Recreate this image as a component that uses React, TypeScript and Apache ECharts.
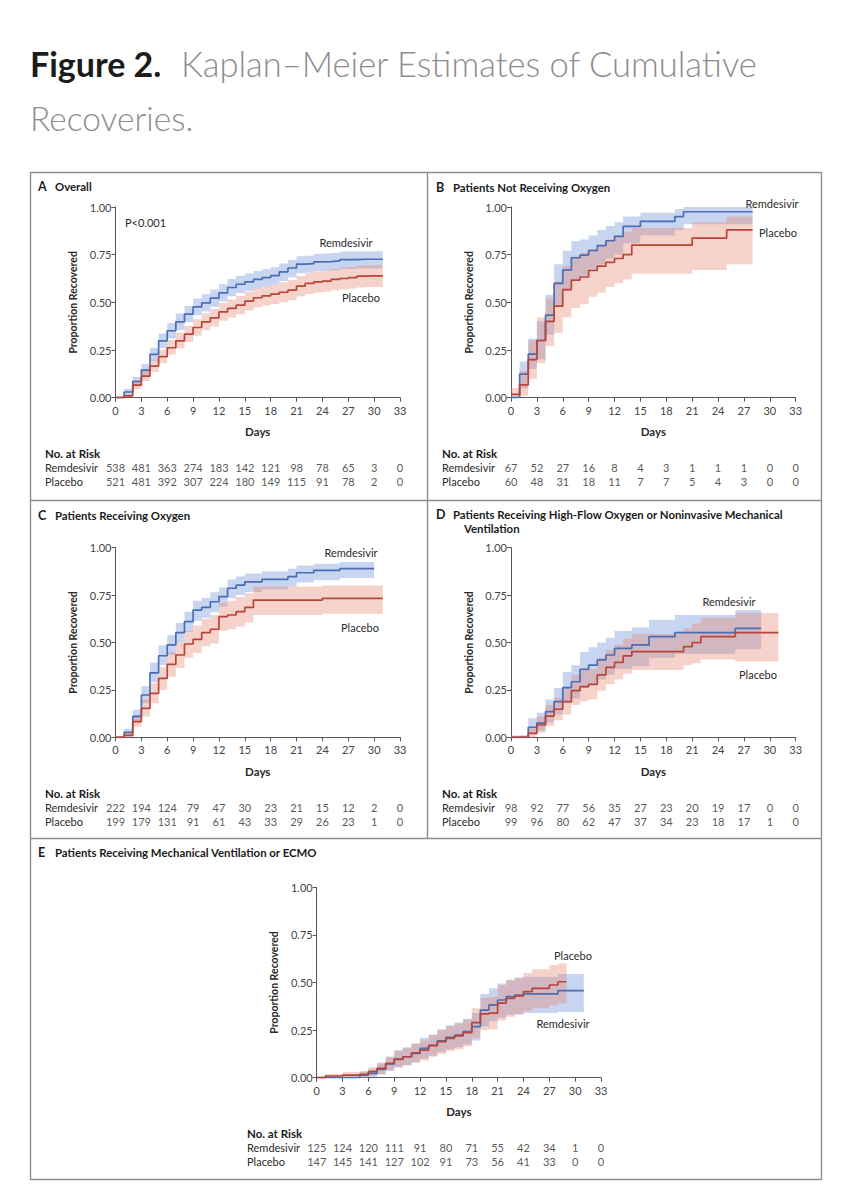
import React, { useEffect, useRef } from "react";
import * as echarts from "echarts";

// ---------- DATA ----------
const RISK_DAYS = [0, 3, 6, 9, 12, 15, 18, 21, 24, 27, 30, 33];
const ARMS = ["Remdesivir", "Placebo"];

// Panel A – Overall (values per day, from day 0)
const A_REM = [0, 0.03, 0.085, 0.145, 0.227, 0.298, 0.351, 0.398, 0.438, 0.476, 0.497, 0.522, 0.55, 0.578, 0.595, 0.607, 0.62, 0.63, 0.64, 0.66, 0.68, 0.7, 0.703, 0.712, 0.714, 0.717, 0.724, 0.724, 0.726, 0.726, 0.726];
const A_REM_LO = [0, 0.015, 0.062, 0.115, 0.193, 0.26, 0.31, 0.355, 0.395, 0.432, 0.452, 0.477, 0.505, 0.532, 0.549, 0.561, 0.573, 0.583, 0.593, 0.612, 0.632, 0.652, 0.655, 0.663, 0.665, 0.668, 0.675, 0.675, 0.677, 0.677, 0.677];
const A_REM_HI = [0, 0.045, 0.108, 0.177, 0.262, 0.336, 0.392, 0.441, 0.481, 0.52, 0.542, 0.567, 0.595, 0.622, 0.639, 0.651, 0.664, 0.674, 0.684, 0.704, 0.722, 0.742, 0.745, 0.754, 0.756, 0.759, 0.766, 0.766, 0.768, 0.768, 0.768];
const A_PLA = [0, 0.01, 0.066, 0.113, 0.166, 0.215, 0.262, 0.298, 0.333, 0.368, 0.398, 0.419, 0.45, 0.468, 0.485, 0.506, 0.524, 0.534, 0.543, 0.553, 0.564, 0.585, 0.599, 0.607, 0.611, 0.62, 0.625, 0.63, 0.637, 0.639, 0.639];
const A_PLA_LO = [0, 0.002, 0.046, 0.088, 0.136, 0.18, 0.225, 0.258, 0.292, 0.325, 0.354, 0.374, 0.404, 0.421, 0.437, 0.457, 0.474, 0.484, 0.492, 0.501, 0.511, 0.531, 0.544, 0.551, 0.555, 0.563, 0.567, 0.572, 0.578, 0.58, 0.58];
const A_PLA_HI = [0, 0.02, 0.09, 0.142, 0.2, 0.252, 0.302, 0.34, 0.376, 0.412, 0.443, 0.465, 0.496, 0.515, 0.533, 0.555, 0.574, 0.584, 0.594, 0.605, 0.617, 0.638, 0.653, 0.662, 0.666, 0.675, 0.681, 0.686, 0.693, 0.695, 0.695];
const A_REM_RISK = [538, 481, 363, 274, 183, 142, 121, 98, 78, 65, 3, 0];
const A_PLA_RISK = [521, 481, 392, 307, 224, 180, 149, 115, 91, 78, 2, 0];

// Panel B – Patients Not Receiving Oxygen
const B_REM = [0, 0.124, 0.228, 0.3, 0.433, 0.6, 0.67, 0.734, 0.748, 0.772, 0.797, 0.823, 0.846, 0.898, 0.898, 0.925, 0.925, 0.925, 0.925, 0.95, 0.975, 0.975, 0.975, 0.975, 0.975, 0.975, 0.975, 0.975];
const B_REM_LO = [0, 0.05, 0.15, 0.2, 0.33, 0.48, 0.56, 0.62, 0.64, 0.67, 0.7, 0.73, 0.75, 0.81, 0.81, 0.85, 0.85, 0.85, 0.85, 0.88, 0.91, 0.91, 0.91, 0.91, 0.91, 0.91, 0.91, 0.91];
const B_REM_HI = [0, 0.19, 0.31, 0.4, 0.54, 0.7, 0.77, 0.82, 0.83, 0.85, 0.88, 0.9, 0.92, 0.95, 0.95, 0.97, 0.97, 0.97, 0.97, 0.99, 1.0, 1.0, 1.0, 1.0, 1.0, 1.0, 1.0, 1.0];
const B_PLA = [0.017, 0.067, 0.2, 0.3, 0.4, 0.48, 0.567, 0.617, 0.633, 0.667, 0.69, 0.71, 0.73, 0.75, 0.8, 0.8, 0.8, 0.8, 0.8, 0.8, 0.8, 0.837, 0.837, 0.837, 0.837, 0.88, 0.88, 0.88];
const B_PLA_LO = [0, 0.01, 0.1, 0.18, 0.27, 0.34, 0.42, 0.47, 0.49, 0.53, 0.55, 0.58, 0.6, 0.62, 0.65, 0.65, 0.65, 0.65, 0.65, 0.65, 0.65, 0.67, 0.67, 0.67, 0.67, 0.7, 0.7, 0.7];
const B_PLA_HI = [0.05, 0.14, 0.3, 0.42, 0.52, 0.61, 0.69, 0.74, 0.76, 0.78, 0.8, 0.83, 0.85, 0.87, 0.89, 0.89, 0.89, 0.89, 0.89, 0.89, 0.89, 0.92, 0.92, 0.92, 0.92, 0.95, 0.95, 0.95];
const B_REM_RISK = [67, 52, 27, 16, 8, 4, 3, 1, 1, 1, 0, 0];
const B_PLA_RISK = [60, 48, 31, 18, 11, 7, 7, 5, 4, 3, 0, 0];

// Panel C – Patients Receiving Oxygen
const C_REM = [0, 0.026, 0.11, 0.223, 0.34, 0.43, 0.487, 0.552, 0.61, 0.671, 0.685, 0.715, 0.742, 0.786, 0.803, 0.82, 0.82, 0.833, 0.833, 0.833, 0.847, 0.868, 0.868, 0.88, 0.88, 0.88, 0.89, 0.89, 0.89, 0.89];
const C_REM_LO = [0, 0.01, 0.08, 0.18, 0.29, 0.38, 0.435, 0.5, 0.555, 0.615, 0.63, 0.66, 0.688, 0.733, 0.75, 0.767, 0.767, 0.78, 0.78, 0.78, 0.795, 0.816, 0.816, 0.828, 0.828, 0.828, 0.84, 0.84, 0.84, 0.84];
const C_REM_HI = [0, 0.045, 0.145, 0.27, 0.395, 0.485, 0.54, 0.603, 0.662, 0.72, 0.735, 0.765, 0.79, 0.832, 0.848, 0.864, 0.864, 0.876, 0.876, 0.876, 0.889, 0.906, 0.906, 0.915, 0.915, 0.915, 0.925, 0.925, 0.925, 0.925];
const C_PLA = [0, 0.01, 0.083, 0.153, 0.232, 0.311, 0.385, 0.434, 0.492, 0.517, 0.552, 0.57, 0.636, 0.645, 0.663, 0.685, 0.724, 0.724, 0.724, 0.724, 0.724, 0.724, 0.724, 0.724, 0.733, 0.733, 0.733, 0.733, 0.733, 0.733, 0.733];
const C_PLA_LO = [0, 0, 0.055, 0.11, 0.18, 0.25, 0.32, 0.365, 0.42, 0.445, 0.48, 0.495, 0.56, 0.57, 0.585, 0.605, 0.645, 0.645, 0.645, 0.645, 0.645, 0.645, 0.645, 0.645, 0.652, 0.652, 0.652, 0.652, 0.652, 0.652, 0.652];
const C_PLA_HI = [0, 0.025, 0.115, 0.2, 0.285, 0.37, 0.45, 0.5, 0.56, 0.59, 0.625, 0.645, 0.71, 0.72, 0.74, 0.76, 0.795, 0.795, 0.795, 0.795, 0.795, 0.795, 0.795, 0.795, 0.8, 0.8, 0.8, 0.8, 0.8, 0.8, 0.8];
const C_REM_RISK = [222, 194, 124, 79, 47, 30, 23, 21, 15, 12, 2, 0];
const C_PLA_RISK = [199, 179, 131, 91, 61, 43, 33, 29, 26, 23, 1, 0];

// Panel D – High-Flow Oxygen or Noninvasive Mechanical Ventilation
const D_REM = [0, 0, 0.053, 0.075, 0.135, 0.188, 0.262, 0.293, 0.358, 0.381, 0.408, 0.434, 0.469, 0.469, 0.487, 0.487, 0.531, 0.531, 0.531, 0.552, 0.552, 0.552, 0.552, 0.552, 0.552, 0.552, 0.575, 0.575, 0.575];
const D_REM_LO = [0, 0, 0.02, 0.035, 0.08, 0.12, 0.18, 0.205, 0.26, 0.28, 0.305, 0.33, 0.36, 0.36, 0.375, 0.375, 0.42, 0.42, 0.42, 0.44, 0.44, 0.44, 0.44, 0.44, 0.44, 0.44, 0.465, 0.465, 0.465];
const D_REM_HI = [0.01, 0.01, 0.1, 0.13, 0.2, 0.26, 0.345, 0.38, 0.45, 0.475, 0.5, 0.525, 0.56, 0.56, 0.58, 0.58, 0.62, 0.62, 0.62, 0.645, 0.645, 0.645, 0.645, 0.645, 0.645, 0.645, 0.67, 0.67, 0.67];
const D_PLA = [0, 0, 0.021, 0.065, 0.112, 0.148, 0.188, 0.246, 0.267, 0.279, 0.329, 0.369, 0.395, 0.429, 0.452, 0.452, 0.452, 0.452, 0.452, 0.452, 0.478, 0.499, 0.531, 0.531, 0.531, 0.531, 0.552, 0.552, 0.552, 0.552, 0.552];
const D_PLA_LO = [0, 0, 0, 0.025, 0.06, 0.09, 0.12, 0.17, 0.19, 0.2, 0.245, 0.28, 0.305, 0.335, 0.355, 0.355, 0.355, 0.355, 0.355, 0.355, 0.38, 0.39, 0.41, 0.41, 0.41, 0.41, 0.4, 0.4, 0.4, 0.4, 0.4];
const D_PLA_HI = [0, 0.01, 0.05, 0.11, 0.17, 0.21, 0.26, 0.33, 0.35, 0.36, 0.42, 0.46, 0.49, 0.52, 0.545, 0.545, 0.545, 0.545, 0.545, 0.545, 0.575, 0.6, 0.63, 0.63, 0.63, 0.63, 0.655, 0.655, 0.655, 0.655, 0.655];
const D_REM_RISK = [98, 92, 77, 56, 35, 27, 23, 20, 19, 17, 0, 0];
const D_PLA_RISK = [99, 96, 80, 62, 47, 37, 34, 23, 18, 17, 1, 0];

// Panel E – Mechanical Ventilation or ECMO
const E_REM = [0, 0, 0, 0, 0, 0.014, 0.023, 0.044, 0.072, 0.098, 0.11, 0.128, 0.154, 0.17, 0.194, 0.212, 0.224, 0.242, 0.268, 0.355, 0.382, 0.408, 0.426, 0.434, 0.44, 0.44, 0.44, 0.44, 0.457, 0.457, 0.457];
const E_REM_LO = [0, 0, 0, 0, 0, 0, 0.005, 0.015, 0.035, 0.055, 0.065, 0.08, 0.1, 0.115, 0.135, 0.15, 0.16, 0.175, 0.195, 0.27, 0.295, 0.315, 0.33, 0.335, 0.34, 0.34, 0.34, 0.34, 0.345, 0.345, 0.345];
const E_REM_HI = [0, 0, 0, 0, 0, 0.03, 0.045, 0.075, 0.11, 0.145, 0.16, 0.18, 0.21, 0.225, 0.255, 0.275, 0.29, 0.31, 0.34, 0.44, 0.47, 0.495, 0.515, 0.525, 0.53, 0.53, 0.53, 0.53, 0.545, 0.545, 0.545];
const E_PLA = [0, 0.009, 0.009, 0.014, 0.014, 0.018, 0.032, 0.049, 0.075, 0.096, 0.11, 0.131, 0.145, 0.168, 0.189, 0.207, 0.219, 0.236, 0.289, 0.335, 0.339, 0.392, 0.417, 0.429, 0.452, 0.469, 0.469, 0.487, 0.504];
const E_PLA_LO = [0, 0, 0, 0, 0, 0, 0.01, 0.02, 0.04, 0.055, 0.065, 0.08, 0.09, 0.11, 0.125, 0.14, 0.15, 0.165, 0.21, 0.25, 0.255, 0.3, 0.32, 0.33, 0.35, 0.365, 0.365, 0.38, 0.39];
const E_PLA_HI = [0, 0.02, 0.02, 0.03, 0.03, 0.035, 0.055, 0.08, 0.11, 0.14, 0.155, 0.18, 0.195, 0.225, 0.25, 0.27, 0.285, 0.305, 0.365, 0.42, 0.425, 0.485, 0.51, 0.525, 0.55, 0.57, 0.57, 0.59, 0.6];
const E_REM_RISK = [125, 124, 120, 111, 91, 80, 71, 55, 42, 34, 1, 0];
const E_PLA_RISK = [147, 145, 141, 127, 102, 91, 73, 56, 41, 33, 0, 0];

// ---------- STYLE / LAYOUT ----------
const FONT = "Lato, 'Open Sans', 'DejaVu Sans', sans-serif";
const BLUE = "#4a6db3";
const RED = "#b9453a";
const BLUE_BAND = "rgba(110,145,215,0.38)";
const RED_BAND = "rgba(228,128,104,0.35)";
const AXIS_COLOR = "#555";
const TEXT = "#2a2a2a";

type PanelCfg = {
  letter: string;
  title: string[];
  left: number; top: number; width: number; height: number;
  riskTop: number; tableLeft: number;
  rem: number[]; remLo: number[]; remHi: number[];
  pla: number[]; plaLo: number[]; plaHi: number[];
  remRisk: number[]; plaRisk: number[];
  headX: number; headY: number;
  remLabel: [number, number]; plaLabel: [number, number];
};

const PANELS: PanelCfg[] = [
  { letter: "A", title: ["Overall"], left: 115.5, top: 207, width: 284.5, height: 190.7, riskTop: 460, tableLeft: 45,
    rem: A_REM, remLo: A_REM_LO, remHi: A_REM_HI, pla: A_PLA, plaLo: A_PLA_LO, plaHi: A_PLA_HI,
    remRisk: A_REM_RISK, plaRisk: A_PLA_RISK, headX: 38, headY: 186, remLabel: [346, 242], plaLabel: [361, 297] },
  { letter: "B", title: ["Patients Not Receiving Oxygen"], left: 511, top: 207, width: 284.7, height: 190.7, riskTop: 460, tableLeft: 442,
    rem: B_REM, remLo: B_REM_LO, remHi: B_REM_HI, pla: B_PLA, plaLo: B_PLA_LO, plaHi: B_PLA_HI,
    remRisk: B_REM_RISK, plaRisk: B_PLA_RISK, headX: 436, headY: 187, remLabel: [772, 203], plaLabel: [778, 232] },
  { letter: "C", title: ["Patients Receiving Oxygen"], left: 115.5, top: 547.7, width: 284.5, height: 189.6, riskTop: 800, tableLeft: 45,
    rem: C_REM, remLo: C_REM_LO, remHi: C_REM_HI, pla: C_PLA, plaLo: C_PLA_LO, plaHi: C_PLA_HI,
    remRisk: C_REM_RISK, plaRisk: C_PLA_RISK, headX: 38, headY: 515, remLabel: [351, 552], plaLabel: [360, 627] },
  { letter: "D", title: ["Patients Receiving High-Flow Oxygen or Noninvasive Mechanical", "Ventilation"], left: 511, top: 547.7, width: 284.7, height: 189.6, riskTop: 800, tableLeft: 442,
    rem: D_REM, remLo: D_REM_LO, remHi: D_REM_HI, pla: D_PLA, plaLo: D_PLA_LO, plaHi: D_PLA_HI,
    remRisk: D_REM_RISK, plaRisk: D_PLA_RISK, headX: 436, headY: 514, remLabel: [729, 601], plaLabel: [758, 674] },
  { letter: "E", title: ["Patients Receiving Mechanical Ventilation or ECMO"], left: 316.7, top: 887.3, width: 284.3, height: 190.4, riskTop: 1140, tableLeft: 247,
    rem: E_REM, remLo: E_REM_LO, remHi: E_REM_HI, pla: E_PLA, plaLo: E_PLA_LO, plaHi: E_PLA_HI,
    remRisk: E_REM_RISK, plaRisk: E_PLA_RISK, headX: 38, headY: 852, remLabel: [563, 1023], plaLabel: [573, 955] },
];

function txt(x: number, y: number, text: string, opts: any = {}) {
  const align = opts.align || "left";
  const valign = opts.valign || "middle";
  return {
    type: "text",
    x, y,
    silent: true,
    style: {
      text,
      fill: opts.color || TEXT,
      fontSize: opts.size || 10.5,
      fontWeight: opts.weight || "normal",
      fontFamily: opts.family || FONT,
      textAlign: align,
      textVerticalAlign: valign,
      align,
      verticalAlign: valign,
    },
  };
}

function bandSeries(axisIdx: number, lo: number[], hi: number[], color: string) {
  return {
    type: "custom",
    xAxisIndex: axisIdx,
    yAxisIndex: axisIdx,
    silent: true,
    clip: false,
    z: 1,
    data: lo.map((l, i) => [i, l, hi[i]]),
    encode: { x: 0, y: [1, 2] },
    renderItem: (params: any, api: any) => {
      if (params.dataIndex !== 0) return null;
      const top: number[][] = [];
      const bottom: number[][] = [];
      for (let i = 0; i < lo.length; i++) {
        top.push(api.coord([i, hi[i]]), api.coord([i + 1, hi[i]]));
        bottom.push(api.coord([i, lo[i]]), api.coord([i + 1, lo[i]]));
      }
      return {
        type: "polygon",
        shape: { points: top.concat(bottom.reverse()) },
        style: { fill: color, stroke: null },
      };
    },
  };
}

function lineSeries(axisIdx: number, v: number[], color: string, name: string) {
  const data = v.map((y, i) => [i, y]);
  data.push([v.length, v[v.length - 1]]);
  return {
    type: "line",
    name,
    xAxisIndex: axisIdx,
    yAxisIndex: axisIdx,
    step: "end",
    symbol: "none",
    silent: true,
    z: 3,
    data,
    lineStyle: { color, width: 1.7 },
  };
}

function riskSeries(axisIdx: number, counts: number[], row: number) {
  return {
    type: "scatter",
    xAxisIndex: axisIdx,
    yAxisIndex: axisIdx,
    symbolSize: 1,
    silent: true,
    clip: false,
    itemStyle: { color: "rgba(0,0,0,0)" },
    data: counts.map((n, i) => [RISK_DAYS[i], row, n]),
    label: {
      show: true,
      position: "inside",
      formatter: (p: any) => String(p.value[2]),
      color: TEXT,
      fontSize: 11,
      fontFamily: FONT,
    },
  };
}

function buildOption() {
  const grid: any[] = [];
  const xAxis: any[] = [];
  const yAxis: any[] = [];
  const series: any[] = [];
  const graphic: any[] = [];

  // frame
  graphic.push({ type: "rect", silent: true, shape: { x: 30.5, y: 172.5, width: 791, height: 1007 }, style: { fill: "none", stroke: "#8e8e8e", lineWidth: 1.4 } });
  graphic.push({ type: "line", silent: true, shape: { x1: 30.5, y1: 500.5, x2: 821.5, y2: 500.5 }, style: { stroke: "#8e8e8e", lineWidth: 1.4 } });
  graphic.push({ type: "line", silent: true, shape: { x1: 30.5, y1: 838.5, x2: 821.5, y2: 838.5 }, style: { stroke: "#8e8e8e", lineWidth: 1.4 } });
  graphic.push({ type: "line", silent: true, shape: { x1: 427.5, y1: 172.5, x2: 427.5, y2: 838.5 }, style: { stroke: "#8e8e8e", lineWidth: 1.4 } });

  // figure title
  graphic.push(txt(30, 63, "Figure 2.", { size: 34, weight: "bold", color: "#1b1b1b" }));
  graphic.push(txt(181, 63, "Kaplan\u2013Meier Estimates of Cumulative", { size: 34.5, weight: 300, color: "#8d8d8d" }));
  graphic.push(txt(30, 118, "Recoveries.", { size: 33.5, weight: 300, color: "#8d8d8d" }));

  PANELS.forEach((p, k) => {
    const gi = k * 2;
    const ri = k * 2 + 1;
    grid.push({ left: p.left, top: p.top, width: p.width, height: p.height, containLabel: false });
    grid.push({ left: p.left, top: p.riskTop, width: p.width, height: 28, containLabel: false });

    xAxis.push({
      gridIndex: gi, type: "value", min: 0, max: 33, interval: 3,
      name: "Days", nameLocation: "middle", nameGap: 28,
      nameTextStyle: { fontSize: 11.5, fontWeight: "bold", color: TEXT, fontFamily: FONT },
      axisLine: { show: true, onZero: false, lineStyle: { color: AXIS_COLOR, width: 1 } },
      axisTick: { show: true, length: 4, lineStyle: { color: AXIS_COLOR } },
      axisLabel: { fontSize: 11, color: "#444", margin: 7, fontFamily: FONT },
      splitLine: { show: false },
    });
    xAxis.push({ gridIndex: ri, type: "value", min: 0, max: 33, show: false });

    yAxis.push({
      gridIndex: gi, type: "value", min: 0, max: 1, interval: 0.25,
      name: "Proportion Recovered", nameLocation: "middle", nameRotate: 90, nameGap: 37,
      nameTextStyle: { fontSize: 10.5, fontWeight: "bold", color: TEXT, fontFamily: FONT },
      axisLine: { show: true, onZero: false, lineStyle: { color: AXIS_COLOR, width: 1 } },
      axisTick: { show: true, length: 4, lineStyle: { color: AXIS_COLOR } },
      axisLabel: { fontSize: 11, color: "#444", margin: 4, fontFamily: FONT, formatter: (v: number) => v.toFixed(2) },
      splitLine: { show: false },
    });
    yAxis.push({ gridIndex: ri, type: "value", min: 0, max: 2, show: false });

    series.push(bandSeries(gi, p.remLo, p.remHi, BLUE_BAND));
    series.push(bandSeries(gi, p.plaLo, p.plaHi, RED_BAND));
    series.push(lineSeries(gi, p.rem, BLUE, ARMS[0]));
    series.push(lineSeries(gi, p.pla, RED, ARMS[1]));
    series.push(riskSeries(ri, p.remRisk, 1.5));
    series.push(riskSeries(ri, p.plaRisk, 0.5));

    // panel heading
    graphic.push(txt(p.headX, p.headY, p.letter, { size: 12.5, weight: "bold", color: "#1b1b1b" }));
    p.title.forEach((line, li) => {
      graphic.push(txt(p.headX + (li === 0 ? 17 : 28), p.headY + li * 14, line, { size: 11.4, weight: "bold", color: "#1b1b1b" }));
    });
    // curve labels
    graphic.push(txt(p.remLabel[0], p.remLabel[1], ARMS[0], { align: "center", size: 11 }));
    graphic.push(txt(p.plaLabel[0], p.plaLabel[1], ARMS[1], { align: "center", size: 11 }));
    // risk table labels
    graphic.push(txt(p.tableLeft, p.riskTop - 7, "No. at Risk", { size: 11.5, weight: "bold", color: "#1b1b1b" }));
    graphic.push(txt(p.tableLeft, p.riskTop + 7, ARMS[0], { size: 11 }));
    graphic.push(txt(p.tableLeft, p.riskTop + 21, ARMS[1], { size: 11 }));
  });

  graphic.push(txt(125, 222, "P<0.001", { size: 11 }));

  return {
    animation: false,
    backgroundColor: "#ffffff",
    textStyle: { fontFamily: FONT },
    grid,
    xAxis,
    yAxis,
    series,
    graphic: { elements: graphic },
  };
}

export default function App() {
  const ref = useRef<HTMLDivElement>(null);
  useEffect(() => {
    if (!ref.current) return;
    const chart = echarts.init(ref.current, undefined, { renderer: "svg" });
    chart.setOption(buildOption() as any);
    return () => chart.dispose();
  }, []);
  return (
    <div
      ref={ref}
      style={{ position: "absolute", left: 0, top: 0, width: 851, height: 1200, background: "#fff" }}
    />
  );
}
